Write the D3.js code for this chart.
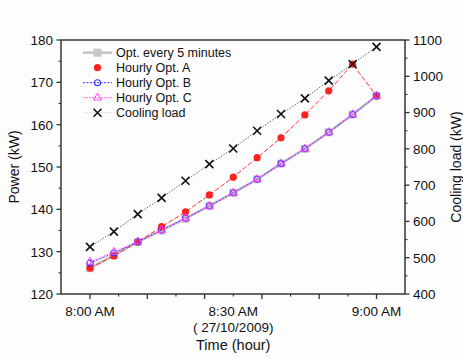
<!DOCTYPE html>
<html>
<head>
<meta charset="utf-8">
<script src="https://cdn.jsdelivr.net/npm/d3@7"></script>
<style>
  html, body { margin: 0; padding: 0; background: #fdfdfd; }
  svg { display: block; }
</style>
</head>
<body>
<div id="chart"></div>
<script>
// minutes after 8:00 AM on 27/10/2009
const minutes = [0, 5, 10, 15, 20, 25, 30, 35, 40, 45, 50, 55, 60];
const opt5min = [126.1, 129.2, 132.3, 135.0, 137.8, 140.8, 143.9, 147.1, 150.8, 154.3, 158.2, 162.4, 166.8];
const hourlyA = [126.1, 129.0, 132.3, 135.9, 139.4, 143.4, 147.6, 152.2, 156.9, 162.3, 168.0, 174.3, 166.8];
const hourlyB = [127.3, 129.7, 132.3, 135.1, 137.9, 140.8, 143.9, 147.1, 150.8, 154.3, 158.2, 162.4, 166.8];
const hourlyC = [127.6, 129.9, 132.4, 135.1, 137.9, 140.8, 143.9, 147.1, 150.8, 154.3, 158.2, 162.4, 166.8];
const coolingLoad = [530, 572, 620, 665, 712, 758, 801, 850, 896, 939, 988, 1034, 1081];

const powerTicks = [120, 130, 140, 150, 160, 170, 180];
const loadTicks = [400, 500, 600, 700, 800, 900, 1000, 1100];
const timeLabels = [{m: 0, t: "8:00 AM"}, {m: 30, t: "8:30 AM"}, {m: 60, t: "9:00 AM"}];

const width = 463, height = 358;
const mLeft = 61, mRight = 405, mTop = 40, mBottom = 294;
const font = "Liberation Sans, Arial, sans-serif";
const axisColor = "#333";

const svg = d3.select("#chart").append("svg")
  .attr("width", width).attr("height", height)
  .style("font-family", font);

svg.append("rect").attr("width", width).attr("height", height).attr("fill", "#fdfdfd");

const x = d3.scaleLinear().domain([0, 60]).range([90, 376.5]);
const y = d3.scaleLinear().domain([120, 180]).range([mBottom, mTop]);
const y2 = d3.scaleLinear().domain([400, 1100]).range([mBottom, mTop]);

// frame
svg.append("line").attr("x1", mLeft).attr("x2", mRight).attr("y1", mTop).attr("y2", mTop)
  .attr("stroke", axisColor).attr("stroke-width", 1.3);

// left axis
const gl = svg.append("g").attr("transform", `translate(${mLeft},0)`);
gl.append("line").attr("y1", mTop).attr("y2", mBottom).attr("stroke", axisColor).attr("stroke-width", 1.5);
gl.selectAll("line.mj").data(powerTicks).join("line").attr("class", "mj")
  .attr("x1", -4.5).attr("x2", 0).attr("y1", d => y(d)).attr("y2", d => y(d))
  .attr("stroke", axisColor).attr("stroke-width", 1.3);
gl.selectAll("line.mn").data(d3.range(125, 180, 10)).join("line").attr("class", "mn")
  .attr("x1", -2.5).attr("x2", 0).attr("y1", d => y(d)).attr("y2", d => y(d))
  .attr("stroke", axisColor).attr("stroke-width", 1.1);
gl.selectAll("text").data(powerTicks).join("text")
  .attr("x", -8).attr("y", d => y(d)).attr("dy", "0.36em")
  .attr("text-anchor", "end").attr("font-size", 13.5).attr("fill", "#111")
  .text(d => d);

// right axis
const gr = svg.append("g").attr("transform", `translate(${mRight},0)`);
gr.append("line").attr("y1", mTop).attr("y2", mBottom).attr("stroke", axisColor).attr("stroke-width", 1.5);
gr.selectAll("line.mj").data(loadTicks).join("line").attr("class", "mj")
  .attr("x1", 0).attr("x2", 4.5).attr("y1", d => y2(d)).attr("y2", d => y2(d))
  .attr("stroke", axisColor).attr("stroke-width", 1.3);
gr.selectAll("line.mn").data(d3.range(450, 1100, 100)).join("line").attr("class", "mn")
  .attr("x1", 0).attr("x2", 2.5).attr("y1", d => y2(d)).attr("y2", d => y2(d))
  .attr("stroke", axisColor).attr("stroke-width", 1.1);
gr.selectAll("text").data(loadTicks).join("text")
  .attr("x", 8).attr("y", d => y2(d)).attr("dy", "0.36em")
  .attr("text-anchor", "start").attr("font-size", 13.5).attr("fill", "#111")
  .text(d => d);

// bottom axis
const gb = svg.append("g").attr("transform", `translate(0,${mBottom})`);
gb.append("line").attr("x1", mLeft).attr("x2", mRight).attr("stroke", axisColor).attr("stroke-width", 1.5);
gb.selectAll("line.mj").data(d3.range(0, 61, 12)).join("line").attr("class", "mj")
  .attr("x1", d => x(d)).attr("x2", d => x(d)).attr("y1", 0).attr("y2", 5)
  .attr("stroke", axisColor).attr("stroke-width", 1.3);
gb.selectAll("line.mn").data(d3.range(6, 60, 12)).join("line").attr("class", "mn")
  .attr("x1", d => x(d)).attr("x2", d => x(d)).attr("y1", 0).attr("y2", 2.5)
  .attr("stroke", axisColor).attr("stroke-width", 1.1);
gb.selectAll("text").data(timeLabels).join("text")
  .attr("x", d => x(d.m)).attr("y", 22)
  .attr("text-anchor", "middle").attr("font-size", 13.5).attr("fill", "#111")
  .text(d => d.t);

svg.append("text").attr("x", x(30)).attr("y", 332)
  .attr("text-anchor", "middle").attr("font-size", 13.5).attr("fill", "#111")
  .text("( 27/10/2009)");
svg.append("text").attr("x", x(30)).attr("y", 350)
  .attr("text-anchor", "middle").attr("font-size", 14.5).attr("fill", "#111")
  .text("Time (hour)");

svg.append("text").attr("transform", `translate(19,${(mTop + mBottom) / 2}) rotate(-90)`)
  .attr("text-anchor", "middle").attr("font-size", 14).attr("fill", "#111")
  .text("Power (kW)");
svg.append("text").attr("transform", `translate(461,${(mTop + mBottom) / 2}) rotate(-90)`)
  .attr("text-anchor", "middle").attr("font-size", 14).attr("fill", "#111")
  .text("Cooling load (kW)");

// series
const series = [
  {name: "Opt. every 5 minutes", vals: opt5min, scale: y, color: "#c4c4c4", width: 2.6, dash: null, marker: "square"},
  {name: "Hourly Opt. A", vals: hourlyA, scale: y, color: "#ff2020", width: 0.9, dash: "5,2", marker: "dot"},
  {name: "Hourly Opt. B", vals: hourlyB, scale: y, color: "#3333ff", width: 1, dash: "2,1.5", marker: "circle"},
  {name: "Hourly Opt. C", vals: hourlyC, scale: y, color: "#ff44ff", width: 1, dash: "1.5,1.5", marker: "triangle"},
  {name: "Cooling load", vals: coolingLoad, scale: y2, color: "#111", width: 0.9, dash: "1.5,1.5", marker: "cross"}
];

function drawMarker(g, type, color) {
  if (type === "square") {
    g.append("rect").attr("x", -4).attr("y", -4).attr("width", 8).attr("height", 8).attr("fill", "#c8c8c8");
  } else if (type === "dot") {
    g.append("circle").attr("r", 3.6).attr("fill", color);
  } else if (type === "circle") {
    g.append("circle").attr("r", 3).attr("fill", "none").attr("stroke", color).attr("stroke-width", 1.1);
  } else if (type === "triangle") {
    g.append("path").attr("d", d3.symbol(d3.symbolTriangle, 28)()).attr("fill", "none")
      .attr("stroke", color).attr("stroke-width", 1);
  } else if (type === "cross") {
    g.append("path").attr("d", "M-4,-4L4,4M-4,4L4,-4").attr("stroke", color).attr("stroke-width", 1.6);
  }
}

const plot = svg.append("g");
series.forEach(s => {
  const line = d3.line().x((d, i) => x(minutes[i])).y(d => s.scale(d));
  const lineColor = s.marker === "cross" ? "#555" : s.color;
  plot.append("path").datum(s.vals).attr("d", line)
    .attr("fill", "none").attr("stroke", lineColor).attr("stroke-width", s.width)
    .attr("stroke-dasharray", s.dash);
  s.vals.forEach((v, i) => {
    const g = plot.append("g").attr("transform", `translate(${x(minutes[i])},${s.scale(v)})`);
    drawMarker(g, s.marker, s.color);
  });
});

// legend
const legend = svg.append("g");
series.forEach((s, i) => {
  const yy = 52.7 + i * 15;
  const g = legend.append("g").attr("transform", `translate(0,${yy})`);
  if (s.marker === "square") {
    g.append("line").attr("x1", 83).attr("x2", 112).attr("stroke", "#c4c4c4").attr("stroke-width", 2.6);
  } else if (s.marker === "circle" || s.marker === "triangle") {
    g.append("line").attr("x1", 83).attr("x2", 112).attr("stroke", s.color).attr("stroke-width", 1)
      .attr("stroke-dasharray", s.dash);
  } else if (s.marker === "cross") {
    g.append("line").attr("x1", 83).attr("x2", 112).attr("stroke", "#ddd").attr("stroke-width", 0.8);
  }
  const m = g.append("g").attr("transform", "translate(97.5,0)");
  drawMarker(m, s.marker, s.color);
  g.append("text").attr("x", 116).attr("dy", "0.36em").attr("font-size", 12.5).attr("fill", "#111")
    .text(s.name);
});
</script>
</body>
</html>
